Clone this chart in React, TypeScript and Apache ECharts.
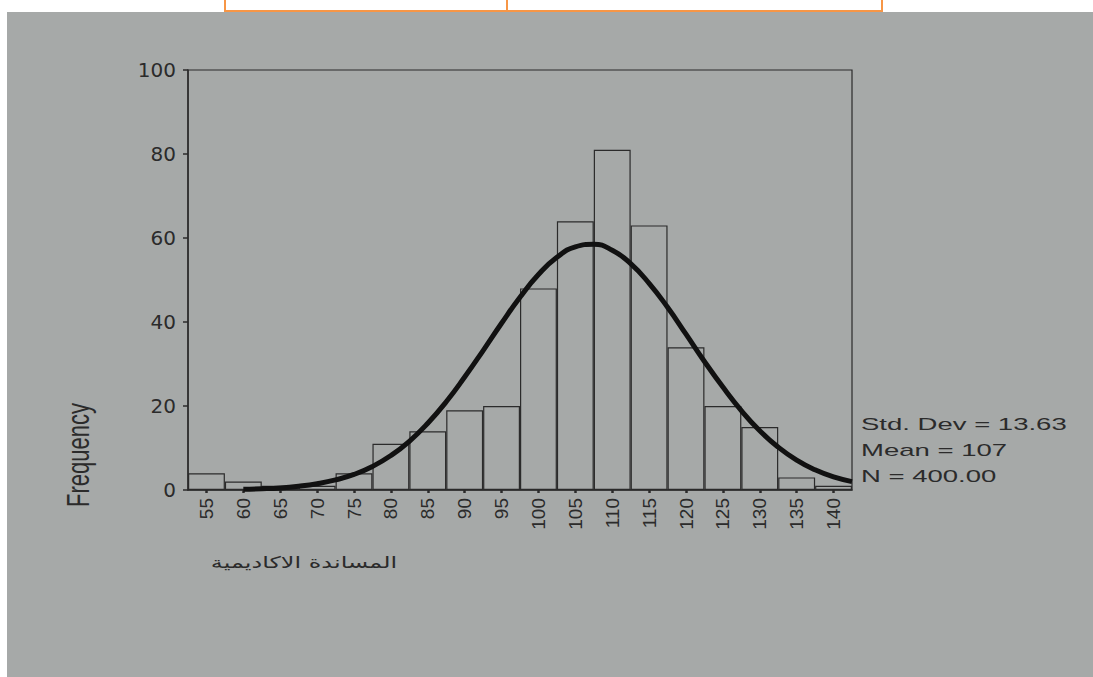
import React, { useEffect, useRef } from "react";
import * as echarts from "echarts";

const binLabels = ["55","60","65","70","75","80","85","90","95","100","105","110","115","120","125","130","135","140"];
const frequencies = [4, 2, 1, 1, 4, 11, 14, 19, 20, 48, 64, 81, 63, 34, 20, 15, 3, 1];
const yTicks = [0, 20, 40, 60, 80, 100];
const curveX = [60,62.5,65,67.5,70,72.5,75,77.5,80,82.5,85,87.5,90,92.5,95,97.5,100,102.5,105,107.5,110,112.5,115,117.5,120,122.5,125,127.5,130,132.5,135,137.5,140,142.5];
const curveY = [0.2,0.3,0.5,0.9,1.5,2.4,3.7,5.6,8.2,11.6,15.9,21.0,26.9,33.2,39.7,45.9,51.3,55.4,57.9,58.5,57.1,53.9,49.2,43.5,37.1,30.6,24.5,18.9,14.1,10.2,7.1,4.8,3.1,2.0];
const statLines = ["Std. Dev = 13.63", "Mean = 107", "N = 400.00"];
const yName = "Frequency";
const xName = "المساندة الاكاديمية";

export default function App() {
  const ref = useRef<HTMLDivElement>(null);
  useEffect(() => {
    if (!ref.current) return;
    const chart = echarts.init(ref.current, null, { renderer: "svg" });
    const ink = "#2b2b2b";
    const bg = "#a6a9a8";
    const orange = "#f79646";
    const gl = 188, gr = 852, gt = 70, gb = 490;
    chart.setOption({
      animation: false,
      backgroundColor: "#ffffff",
      grid: { left: gl, right: 1093 - gr, top: gt, bottom: 677 - gb, show: false },
      xAxis: [
        {
          type: "category",
          data: binLabels,
          boundaryGap: true,
          axisLine: { show: true, lineStyle: { color: ink, width: 1.5 } },
          axisTick: { show: true, alignWithLabel: true, length: 3, lineStyle: { color: ink, width: 2.5 } },
          axisLabel: { rotate: 90, color: ink, fontSize: 19, fontFamily: "Liberation Sans, Arial, sans-serif", margin: 8 },
        },
        {
          type: "value",
          min: 52.5,
          max: 142.5,
          show: false,
        },
      ],
      yAxis: {
        type: "value",
        min: 0,
        max: 100,
        interval: 20,
        axisLine: { show: true, lineStyle: { color: ink, width: 1.5 } },
        axisTick: { show: true, length: 5, lineStyle: { color: ink, width: 1.5 } },
        axisLabel: { color: ink, fontSize: 20, fontFamily: "DejaVu Sans, sans-serif", margin: 12,
          formatter: (v: number) => (yTicks.indexOf(v) >= 0 ? String(v) : "") },
        splitLine: { show: false },
      },
      graphic: [
        { type: "rect", z: -10, shape: { x: 7, y: 12, width: 1086, height: 665 }, style: { fill: bg } },
        { type: "line", z: 10, shape: { x1: 225, y1: 11, x2: 882, y2: 11 }, style: { stroke: orange, lineWidth: 2 } },
        { type: "line", z: 10, shape: { x1: 225, y1: 0, x2: 225, y2: 12 }, style: { stroke: orange, lineWidth: 2 } },
        { type: "line", z: 10, shape: { x1: 507, y1: 0, x2: 507, y2: 12 }, style: { stroke: orange, lineWidth: 2 } },
        { type: "line", z: 10, shape: { x1: 882, y1: 0, x2: 882, y2: 12 }, style: { stroke: orange, lineWidth: 2 } },
        { type: "rect", z: 5, shape: { x: gl, y: gt, width: gr - gl, height: gb - gt }, style: { fill: "none", stroke: ink, lineWidth: 1.2 } },
        {
          type: "text", z: 10, x: 79, y: 455, rotation: Math.PI / 2, scaleY: 1.4,
          style: { text: yName, fill: ink, font: "22px 'Liberation Sans', Arial, sans-serif", align: "center", verticalAlign: "middle" },
        },
        {
          type: "text", z: 10, x: 304, y: 563, scaleX: 1.5,
          style: { text: xName, fill: ink, font: "16px 'DejaVu Sans', sans-serif", align: "center", verticalAlign: "middle" },
        },
        ...statLines.map((t, i) => ({
          type: "text", z: 10, x: 861, y: 425 + i * 26, scaleX: 1.72,
          style: { text: t, fill: ink, font: "16px 'Liberation Sans', Arial, sans-serif", align: "left", verticalAlign: "middle" },
        })),
      ],
      series: [
        {
          type: "bar",
          xAxisIndex: 0,
          data: frequencies,
          barCategoryGap: "0%",
          itemStyle: { color: "rgba(0,0,0,0)", borderColor: ink, borderWidth: 1.2 },
        },
        {
          type: "line",
          xAxisIndex: 1,
          data: curveX.map((x, i) => [x, curveY[i]]),
          smooth: true,
          symbol: "none",
          lineStyle: { color: "#111111", width: 5 },
          z: 5,
        },
      ],
    });
    return () => chart.dispose();
  }, []);
  return <div ref={ref} style={{ position: "fixed", left: 0, top: 0, width: 1093, height: 677 }} />;
}
